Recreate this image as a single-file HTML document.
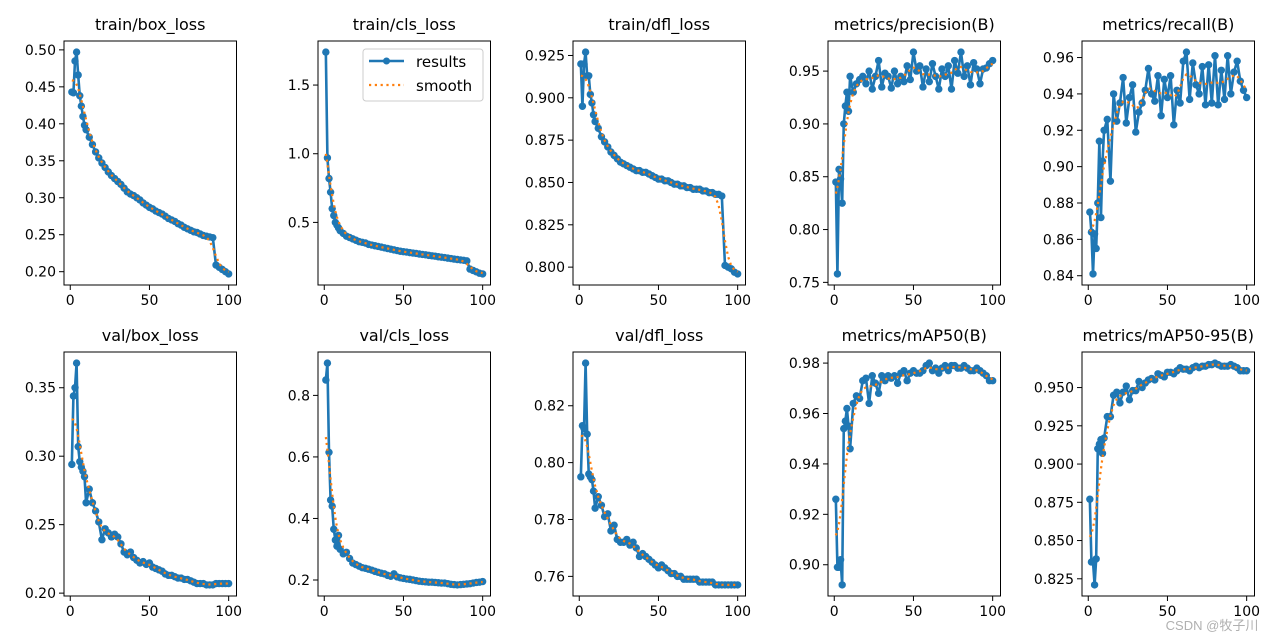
<!DOCTYPE html>
<html><head><meta charset="utf-8">
<style>
html,body{margin:0;padding:0;background:#fff;}
svg{display:block;font-family:"DejaVu Sans","Liberation Sans","Noto Sans CJK SC",sans-serif;}
</style></head>
<body>
<svg id="fig" width="1280" height="640" viewBox="0 0 1280 640" xmlns="http://www.w3.org/2000/svg">
<rect width="1280" height="640" fill="#fff"/>
<text x="1212" y="630" font-size="13" fill="#b0b0b0" text-anchor="middle" font-family="Liberation Sans,Noto Sans CJK SC,sans-serif">CSDN @牧子川</text>
</svg>
<script>
const epochs=[1,2,3,4,5,6,7,8,9,10,12,14,16,18,20,22,24,26,28,30,32,34,36,38,40,42,44,46,48,50,52,54,56,58,60,62,64,66,68,70,72,74,76,78,80,82,84,86,88,90,92,94,96,98,100];
const trainBox=[0.443,0.442,0.485,0.497,0.466,0.438,0.424,0.410,0.398,0.392,0.382,0.372,0.362,0.354,0.347,0.341,0.335,0.330,0.326,0.322,0.318,0.313,0.308,0.305,0.303,0.300,0.297,0.293,0.290,0.287,0.285,0.282,0.280,0.278,0.275,0.272,0.270,0.268,0.265,0.263,0.260,0.258,0.256,0.254,0.253,0.251,0.249,0.248,0.247,0.246,0.209,0.206,0.203,0.200,0.197];
const trainCls=[1.74,0.97,0.82,0.72,0.60,0.55,0.50,0.48,0.46,0.44,0.42,0.40,0.39,0.38,0.37,0.36,0.355,0.35,0.34,0.335,0.33,0.325,0.32,0.315,0.31,0.305,0.30,0.295,0.29,0.287,0.284,0.28,0.277,0.274,0.27,0.267,0.264,0.26,0.257,0.254,0.25,0.247,0.244,0.24,0.237,0.233,0.23,0.227,0.224,0.22,0.16,0.15,0.14,0.13,0.125];
const trainDfl=[0.920,0.895,0.920,0.927,0.913,0.913,0.902,0.897,0.890,0.886,0.882,0.877,0.874,0.871,0.868,0.866,0.864,0.862,0.861,0.860,0.859,0.858,0.857,0.857,0.856,0.856,0.855,0.854,0.853,0.852,0.852,0.851,0.851,0.850,0.849,0.849,0.848,0.848,0.847,0.847,0.846,0.846,0.846,0.845,0.845,0.844,0.844,0.843,0.843,0.842,0.801,0.800,0.799,0.797,0.796];
const precision=[0.845,0.758,0.857,0.848,0.825,0.900,0.917,0.930,0.912,0.945,0.930,0.938,0.942,0.945,0.938,0.950,0.933,0.945,0.960,0.935,0.948,0.945,0.934,0.950,0.938,0.945,0.940,0.955,0.942,0.968,0.950,0.955,0.935,0.952,0.940,0.957,0.945,0.933,0.952,0.945,0.955,0.933,0.960,0.948,0.968,0.945,0.955,0.937,0.958,0.952,0.938,0.952,0.953,0.957,0.960];
const recall=[0.875,0.864,0.841,0.863,0.855,0.880,0.914,0.872,0.903,0.920,0.926,0.892,0.940,0.925,0.935,0.949,0.924,0.938,0.945,0.919,0.930,0.935,0.942,0.954,0.940,0.936,0.950,0.928,0.948,0.938,0.950,0.923,0.942,0.935,0.958,0.963,0.937,0.957,0.945,0.940,0.955,0.934,0.956,0.935,0.961,0.934,0.953,0.937,0.961,0.940,0.952,0.958,0.947,0.942,0.938];
const valBox=[0.294,0.344,0.350,0.368,0.307,0.296,0.292,0.289,0.285,0.266,0.276,0.266,0.260,0.252,0.239,0.247,0.244,0.241,0.243,0.241,0.236,0.230,0.228,0.230,0.226,0.224,0.222,0.223,0.221,0.222,0.219,0.218,0.217,0.216,0.214,0.213,0.213,0.212,0.211,0.211,0.210,0.210,0.209,0.208,0.207,0.207,0.207,0.206,0.206,0.206,0.207,0.207,0.207,0.207,0.207];
const valCls=[0.85,0.905,0.615,0.46,0.44,0.365,0.33,0.31,0.345,0.30,0.285,0.29,0.27,0.255,0.25,0.245,0.24,0.238,0.235,0.232,0.228,0.225,0.222,0.22,0.215,0.212,0.22,0.21,0.207,0.205,0.203,0.202,0.2,0.198,0.196,0.195,0.194,0.193,0.193,0.192,0.191,0.19,0.19,0.188,0.186,0.185,0.184,0.185,0.186,0.187,0.188,0.19,0.192,0.193,0.195];
const valDfl=[0.795,0.813,0.812,0.835,0.810,0.796,0.795,0.794,0.790,0.784,0.788,0.785,0.781,0.782,0.776,0.778,0.773,0.772,0.772,0.773,0.771,0.772,0.770,0.767,0.768,0.767,0.766,0.765,0.764,0.763,0.764,0.763,0.762,0.761,0.761,0.760,0.760,0.759,0.759,0.759,0.759,0.759,0.758,0.758,0.758,0.758,0.758,0.757,0.757,0.757,0.757,0.757,0.757,0.757,0.757];
const map50=[0.926,0.899,0.899,0.902,0.892,0.954,0.957,0.962,0.955,0.946,0.964,0.967,0.966,0.973,0.974,0.964,0.975,0.972,0.968,0.975,0.973,0.975,0.974,0.975,0.972,0.976,0.977,0.973,0.976,0.977,0.976,0.976,0.977,0.979,0.980,0.977,0.978,0.976,0.978,0.979,0.977,0.979,0.979,0.978,0.978,0.979,0.978,0.977,0.977,0.978,0.977,0.976,0.975,0.973,0.973];
const map5095=[0.877,0.836,0.836,0.821,0.838,0.910,0.913,0.916,0.907,0.917,0.931,0.931,0.945,0.947,0.940,0.947,0.951,0.942,0.948,0.948,0.954,0.950,0.953,0.955,0.956,0.955,0.959,0.958,0.957,0.960,0.960,0.959,0.961,0.963,0.962,0.962,0.961,0.963,0.964,0.963,0.964,0.964,0.965,0.965,0.966,0.965,0.964,0.964,0.964,0.965,0.964,0.963,0.961,0.961,0.961];
const xTicks=[0,50,100];
const titles=["train/box_loss","train/cls_loss","train/dfl_loss","metrics/precision(B)","metrics/recall(B)","val/box_loss","val/cls_loss","val/dfl_loss","metrics/mAP50(B)","metrics/mAP50-95(B)"];
const tickBox=["0.20","0.25","0.30","0.35","0.40","0.45","0.50"];
const tickCls=["0.5","1.0","1.5"];
const tickDfl=["0.800","0.825","0.850","0.875","0.900","0.925"];
const tickPrec=["0.75","0.80","0.85","0.90","0.95"];
const tickRec=["0.84","0.86","0.88","0.90","0.92","0.94","0.96"];
const tickVBox=["0.20","0.25","0.30","0.35"];
const tickVCls=["0.2","0.4","0.6","0.8"];
const tickVDfl=["0.76","0.78","0.80","0.82"];
const tickM50=["0.90","0.92","0.94","0.96","0.98"];
const tickM95=["0.825","0.850","0.875","0.900","0.925","0.950"];

const series=[trainBox,trainCls,trainDfl,precision,recall,valBox,valCls,valDfl,map50,map5095];
const ticks=[tickBox,tickCls,tickDfl,tickPrec,tickRec,tickVBox,tickVCls,tickVDfl,tickM50,tickM95];
const NS="http://www.w3.org/2000/svg";
const svg=document.getElementById('fig');
function mk(tag,attrs,parent){const e=document.createElementNS(NS,tag);for(const k in attrs)e.setAttribute(k,attrs[k]);(parent||svg).appendChild(e);return e;}
function slug(s){return s.toLowerCase().replace(/[^a-z0-9]+/g,'-').replace(/^-|-$/g,'');}
function smooth(ys){const s=3;return epochs.map((e,i)=>{let w=0,t=0;epochs.forEach((f,j)=>{const k=Math.exp(-((e-f)**2)/(2*s*s));w+=k;t+=k*ys[j];});return t/w;});}
const colX=[64,318,573,828,1082], rowY=[41,352], W=172.5, H=244;
const xmin=Math.min(...epochs),xmax=Math.max(...epochs),xm=(xmax-xmin)*0.05;
for(let p=0;p<10;p++){
  const L=colX[p%5],T=rowY[Math.floor(p/5)],B=T+H,R=L+W;
  const ys=series[p];
  const ymn=Math.min(...ys),ymx=Math.max(...ys),ym=(ymx-ymn)*0.05;
  const sx=v=>L+(v-(xmin-xm))/((xmax+xm)-(xmin-xm))*W;
  const sy=v=>B-(v-(ymn-ym))/((ymx+ym)-(ymn-ym))*H;
  const g=mk('g',{});
  
  
  const t=mk('text',{x:L+W/2,y:T-11,'font-size':16,'text-anchor':'middle',fill:'#000'},g);t.textContent=titles[p];
  
  
  const clip=mk('clipPath',{id:'c'+p},g);mk('rect',{x:L,y:T,width:W,height:H},clip);
  const pg=mk('g',{'clip-path':'url(#c'+p+')'},g);
  const pts=epochs.map((e,i)=>sx(e).toFixed(2)+','+sy(ys[i]).toFixed(2)).join(' ');
  const ln=mk('polyline',{points:pts,fill:'none',stroke:'#1f77b4','stroke-width':2.6,'stroke-linejoin':'round'},pg);
  
  
  epochs.forEach((e,i)=>{const c=mk('circle',{cx:sx(e),cy:sy(ys[i]),r:3.7,fill:'#1f77b4'},pg);
    
    });
  const sm=smooth(ys);
  const sl=mk('polyline',{points:epochs.map((e,i)=>sx(e).toFixed(2)+','+sy(sm[i]).toFixed(2)).join(' '),fill:'none',stroke:'#ff7f0e','stroke-width':2.2,'stroke-dasharray':'2.2 3.6'},pg);
  
  
  const fr=mk('rect',{x:L,y:T,width:W,height:H,fill:'none',stroke:'#000','stroke-width':1},g);
  
  
  xTicks.forEach(v=>{const x=sx(v);mk('line',{x1:x,x2:x,y1:B,y2:B+5,stroke:'#000'},g);
    const tx=mk('text',{x:x,y:B+20,'font-size':14,'text-anchor':'middle'},g);tx.textContent=v;
    
    });
  ticks[p].forEach(s=>{const y=sy(parseFloat(s));mk('line',{x1:L-5,x2:L,y1:y,y2:y,stroke:'#000'},g);
    const ty=mk('text',{x:L-8,y:y+5,'font-size':14,'text-anchor':'end'},g);ty.textContent=s;
    
    });
  if(p===1){
    const lg=mk('g',{},g);
    
    
    mk('rect',{x:363,y:49,width:120,height:52,rx:3,fill:'#fff','fill-opacity':0.8,stroke:'#ccc'},lg);
    mk('line',{x1:369,x2:404,y1:61,y2:61,stroke:'#1f77b4','stroke-width':2.4},lg);
    mk('circle',{cx:386.5,cy:61,r:3.5,fill:'#1f77b4'},lg);
    const a=mk('text',{x:416,y:67,'font-size':15},lg);a.textContent='results';
    
    
    mk('line',{x1:369,x2:404,y1:85,y2:85,stroke:'#ff7f0e','stroke-width':2.2,'stroke-dasharray':'2.2 3.6'},lg);
    const b=mk('text',{x:416,y:91,'font-size':15},lg);b.textContent='smooth';
    
    
  }
}
</script>
</body></html>
